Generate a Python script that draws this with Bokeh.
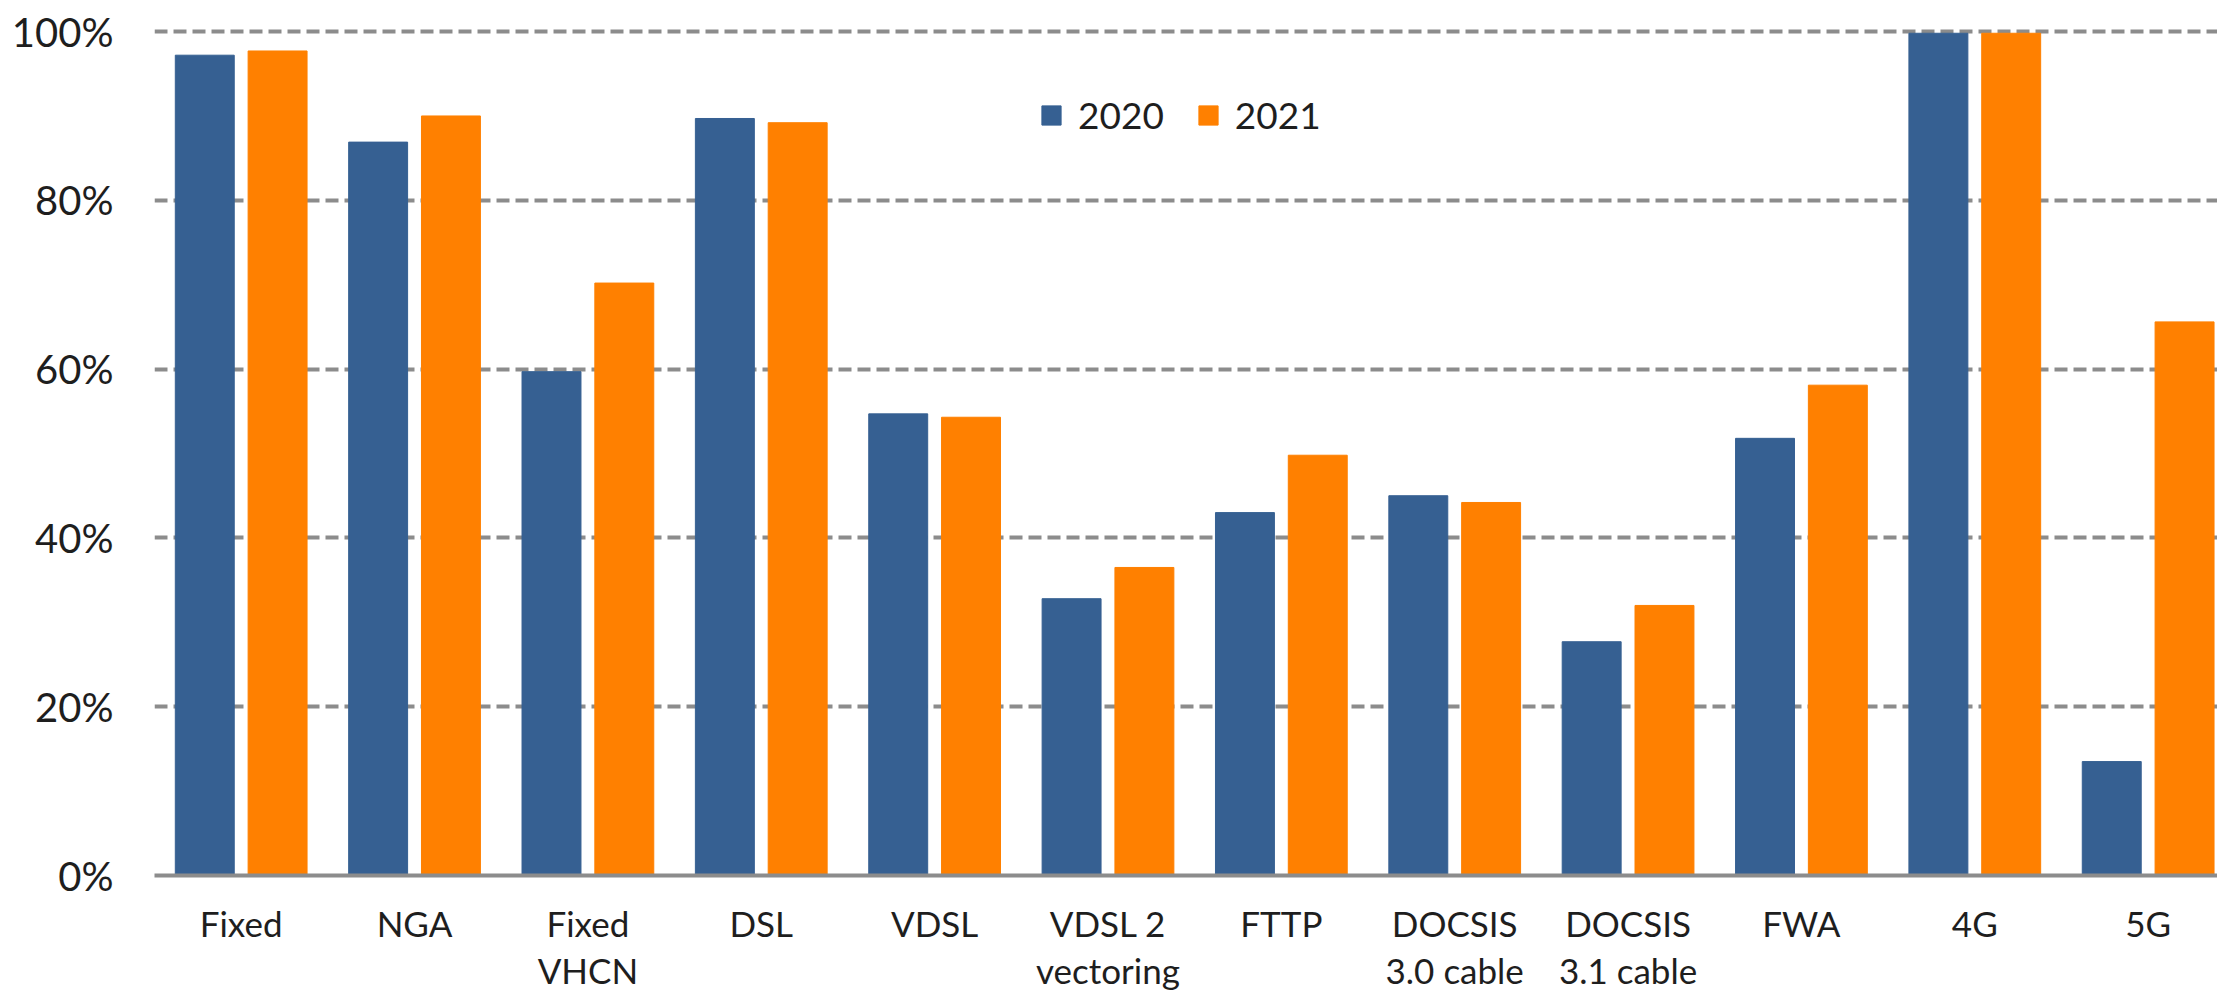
from bokeh.plotting import figure
from bokeh.models import ColumnDataSource, FixedTicker, Range1d, Legend, LegendItem
from bokeh.transform import dodge
from bokeh.embed import file_html
from bokeh.resources import INLINE

# ---- data ----
categories = ["Fixed", "NGA", "Fixed\nVHCN", "DSL", "VDSL", "VDSL 2\nvectoring",
              "FTTP", "DOCSIS\n3.0 cable", "DOCSIS\n3.1 cable", "FWA", "4G", "5G"]
series_names = ["2020", "2021"]
values_2020 = [97.2, 86.9, 59.7, 89.7, 54.7, 32.8, 43.0, 45.0, 27.7, 51.8, 99.8, 13.5]
values_2021 = [97.7, 90.0, 70.2, 89.2, 54.3, 36.5, 49.8, 44.2, 32.0, 58.1, 99.8, 65.6]
y_ticks = [0, 20, 40, 60, 80, 100]
y_tick_labels = ["0%", "20%", "40%", "60%", "80%", "100%"]

BLUE = "#366092"
ORANGE = "#FF8000"
GRID = "#8c8c8c"
TEXT = "#1e1e1e"
FONT = "Lato"

src = ColumnDataSource(dict(
    x=list(range(len(categories))),
    v2020=values_2020,
    v2021=values_2021,
))

p = figure(width=2217, height=993, output_backend="svg", toolbar_location=None,
           x_range=Range1d(-0.5, 11.40), y_range=Range1d(0, 100.6),
           min_border_left=154, min_border_right=0, min_border_top=26,
           min_border_bottom=0)
p.outline_line_color = None
p.background_fill_color = "white"
p.border_fill_color = "white"

r1 = p.vbar(x=dodge("x", -0.21, range=p.x_range), top="v2020", width=0.34,
            source=src, fill_color=BLUE, line_color=BLUE, line_width=1)
r2 = p.vbar(x=dodge("x", 0.21, range=p.x_range), top="v2021", width=0.34,
            source=src, fill_color=ORANGE, line_color=ORANGE, line_width=1)

# grid
p.xgrid.grid_line_color = None
p.ygrid.ticker = FixedTicker(ticks=y_ticks)
p.ygrid.grid_line_color = GRID
p.ygrid.grid_line_width = 3.8
p.ygrid.grid_line_dash = "13 6"

# y axis
p.yaxis.ticker = FixedTicker(ticks=y_ticks)
p.yaxis.major_label_overrides = {t: l for t, l in zip(y_ticks, y_tick_labels)}
p.yaxis.axis_line_color = None
p.yaxis.major_tick_line_color = None
p.yaxis.minor_tick_line_color = None
p.yaxis.major_tick_out = 0
p.yaxis.major_tick_in = 0
p.yaxis.major_label_standoff = 41
p.yaxis.major_label_text_font = FONT
p.yaxis.major_label_text_font_size = "40px"
p.yaxis.major_label_text_color = TEXT

# x axis
p.xaxis.ticker = FixedTicker(ticks=list(range(len(categories))))
p.xaxis.major_label_overrides = {i: c for i, c in enumerate(categories)}
p.xaxis.axis_line_color = GRID
p.xaxis.axis_line_width = 4
p.xaxis.major_tick_line_color = None
p.xaxis.minor_tick_line_color = None
p.xaxis.major_tick_out = 0
p.xaxis.major_tick_in = 0
p.xaxis.major_label_standoff = 26
p.xaxis.major_label_text_font = FONT
p.xaxis.major_label_text_font_size = "35px"
p.xaxis.major_label_text_color = TEXT
p.xaxis.major_label_text_line_height = 1.12

legend = Legend(items=[LegendItem(label=series_names[0], renderers=[r1]),
                       LegendItem(label=series_names[1], renderers=[r2])],
                location=(885, 738), orientation="horizontal")
legend.border_line_color = None
legend.background_fill_alpha = 0
legend.padding = 0
legend.margin = 0
legend.spacing = 32
legend.glyph_width = 24
legend.glyph_height = 24
legend.label_standoff = 15
legend.label_text_font = FONT
legend.label_text_font_size = "37px"
legend.label_text_color = TEXT
p.add_layout(legend, "center")

open("out.html", "w").write(file_html(p, INLINE))
